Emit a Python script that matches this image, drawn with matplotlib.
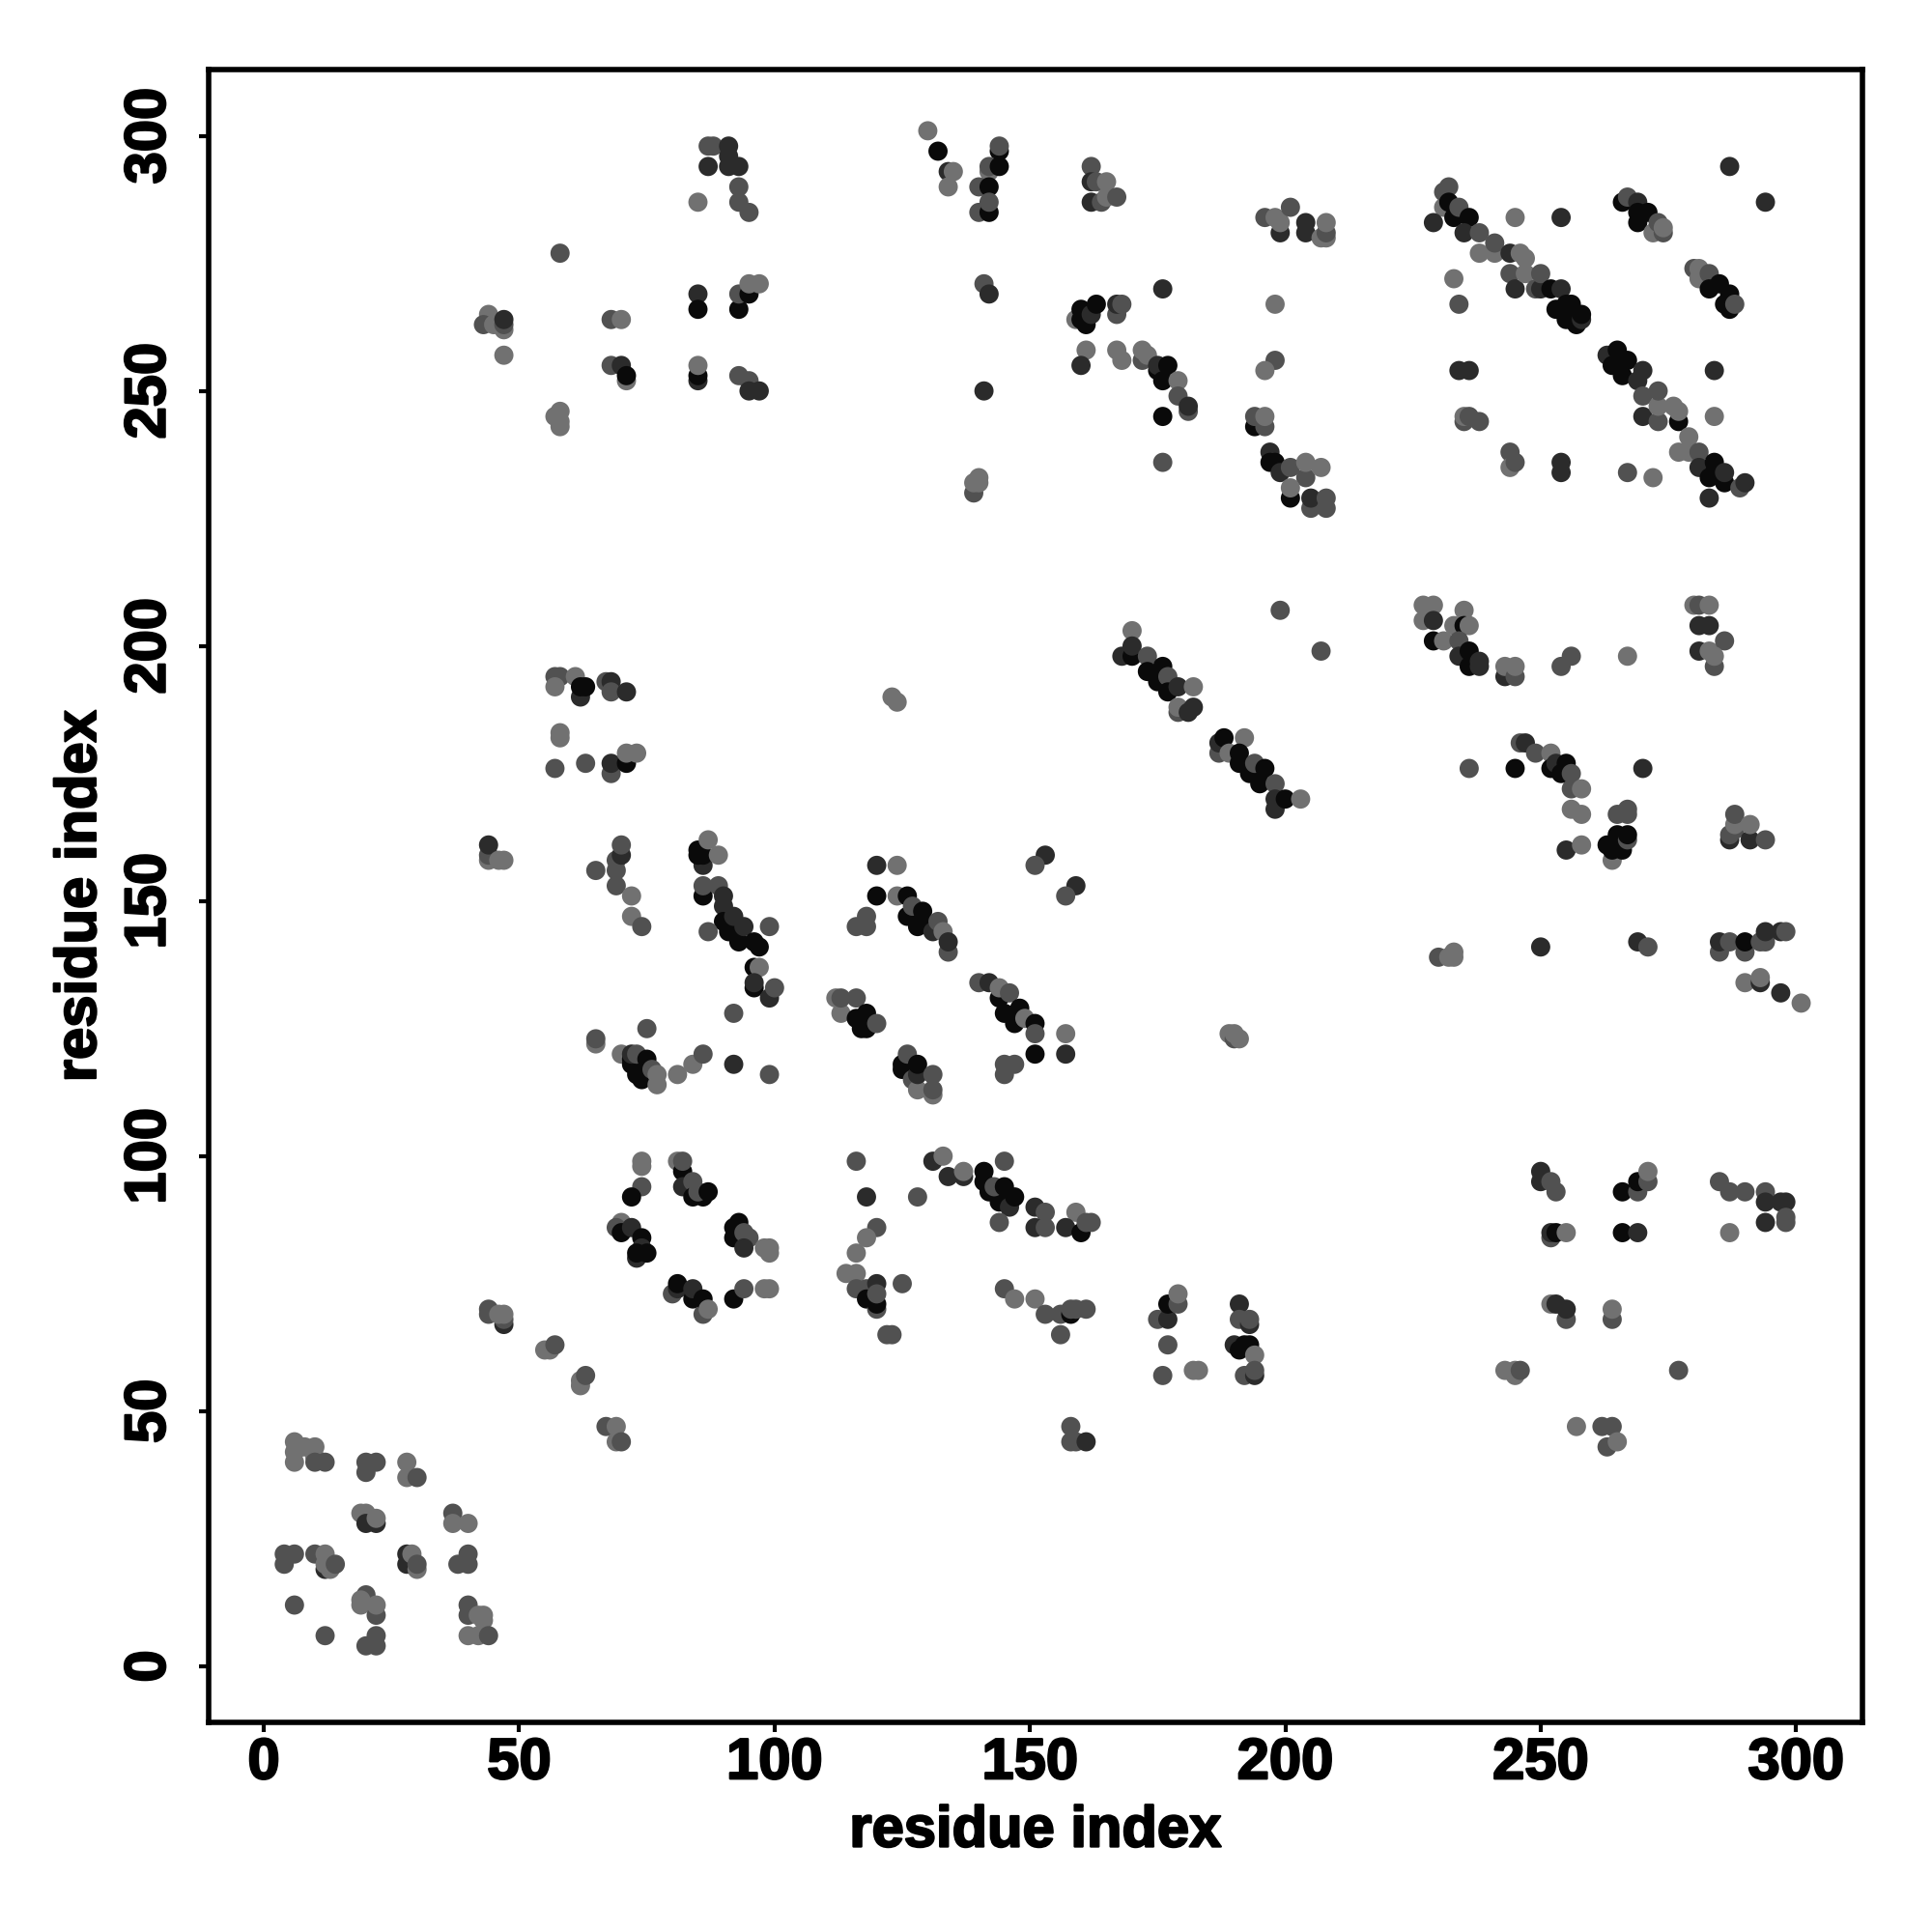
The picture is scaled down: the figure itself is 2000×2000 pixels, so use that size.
import matplotlib
matplotlib.use('Agg')
import matplotlib.pyplot as plt
import matplotlib.patheffects as pe

# contact map: (residue i, residue j, shade)
# shade: 0 light grey, 1 mid grey, 2 dark grey, 3 near black; later points sit on top
shade_grays = ['#717171', '#515151', '#2b2b2b', '#0a0a0a']

domain_corner = [
    (6,44,0),(6,42,0),(6,40,0),(8,43,0),(10,43,0),(10,41,0),(10,40,1),(12,40,1),
    (20,38,1),(20,40,1),(22,40,1),(28,40,0),(28,37,0),(30,37,1),
    (19,30,0),(20,30,0),(20,28,2),(22,28,2),(22,29,0),(37,30,1),(37,28,0),(40,28,0),
    (4,20,1),(4,22,1),(6,22,1),(10,22,1),(12,22,0),(12,19,2),(12,20,0),(13,19,0),(14,20,1),
    (28,22,2),(28,20,2),(29,22,0),(30,19,0),(30,20,1),(40,22,1),(38,20,1),(40,20,1),
    (6,12,1),(12,6,1),(20,14,1),(19,13,0),(19,12,0),(22,10,1),(22,12,0),(20,4,1),(22,4,1),(22,6,1),
    (40,12,1),(40,10,1),(42,10,0),(43,9,0),(43,10,0),(40,6,0),(42,6,0),(44,6,1),
]
near_diag = [
    (44,70,1),(44,69,1),(47,67,2),(47,68,1),(46,69,0),(47,69,0),
    (55,62,0),(56,62,0),(57,63,1),(62,55,0),(62,56,0),(63,57,1),
    (67,47,1),(69,47,0),(69,44,0),(70,44,1),
]
block_44_100 = [
    (44,158,0),(44,159,1),(44,161,2),(46,158,0),(47,158,0),(65,156,1),
    (69,156,1),(69,158,1),(70,159,2),(70,161,1),(69,153,1),(72,151,0),(72,147,0),(74,145,1),
    (86,157,2),(85,159,3),(85,160,3),(86,159,3),(87,162,0),(89,159,0),
    (86,151,3),(86,153,1),(89,153,1),(90,149,2),(90,151,2),(90,146,3),(91,144,3),(92,147,2),
    (93,142,3),(94,145,2),(96,142,3),(97,141,3),(87,144,1),(99,145,1),
    (96,137,3),(97,137,0),(96,133,3),(96,134,2),(99,131,2),(100,133,1),(92,128,1),
    (65,122,0),(65,123,1),(75,125,1),(70,120,0),(72,118,3),(72,119,3),(72,120,2),(73,116,3),
    (74,115,3),(73,120,1),(75,119,3),(76,117,1),(77,114,0),(77,116,0),(81,116,0),(84,118,0),(86,120,1),
    (92,118,2),(99,116,1),
]
block_112_160 = [
    (120,157,2),(124,157,0),(120,151,3),(124,151,0),(118,147,1),(116,145,1),(118,145,1),
    (126,147,3),(126,151,3),(127,149,1),(128,145,3),(129,146,3),(129,148,3),(131,144,2),
    (132,146,1),(133,144,0),(134,140,1),(134,142,2),
    (153,159,2),(151,157,1),(159,153,2),(157,151,1),
    (140,134,1),(142,134,2),(144,131,3),(144,133,0),(146,132,1),(145,128,3),(147,126,3),(148,129,3),
    (149,127,0),(151,126,3),(151,124,1),(157,124,0),(151,120,3),(157,120,2),(145,116,1),(145,118,1),(147,118,1),
    (112,131,0),(113,128,0),(113,131,1),(116,131,1),(116,127,3),(117,125,3),(118,125,3),(118,128,3),(120,126,1),
    (125,117,3),(125,118,3),(126,120,1),(127,115,1),(128,113,0),(128,116,2),(128,118,3),(131,112,0),(131,113,1),(131,116,1),
]
block_low_left = [
    (74,98,0),(74,99,0),(74,94,1),(72,92,3),(81,99,0),(82,97,3),(82,99,1),(82,94,2),(84,95,1),
    (84,92,3),(86,92,3),(85,93,1),(87,93,3),
    (70,87,0),(69,86,1),(70,85,3),(72,86,2),(74,84,3),(74,82,2),(73,80,2),(73,81,3),(75,81,3),
    (92,84,3),(92,86,3),(93,87,3),(94,85,1),(95,84,1),(94,82,2),(98,82,0),(99,81,0),(99,82,0),
    (80,73,1),(81,74,2),(81,75,3),(84,72,3),(84,74,2),(86,69,1),(86,72,3),(87,70,0),
    (92,72,3),(94,74,1),(98,74,0),(99,74,0),
]
block_low_mid = [
    (116,99,1),(118,92,2),(128,92,1),(120,86,1),(118,84,0),(116,81,0),
    (114,77,0),(116,77,0),(116,74,1),(118,74,1),(118,72,3),(120,75,2),(120,70,1),(120,71,3),(120,73,1),
    (125,75,1),(122,65,1),(123,65,1),
    (131,99,2),(133,100,0),(134,96,2),(137,96,2),(137,97,0),(141,95,3),(141,97,3),(142,93,3),(144,91,3),
    (143,94,1),(145,94,3),(145,99,1),(146,90,2),(147,92,3),(151,90,2),(153,89,1),(151,86,2),(153,86,1),(144,87,1),
    (159,89,0),(157,86,2),(160,85,3),(161,87,1),(162,87,1),
    (145,74,1),(147,72,0),(151,72,0),(153,69,1),(156,69,1),(158,69,3),(158,70,1),(159,70,1),(161,70,1),(156,65,1),
    (158,47,1),(158,44,1),(159,44,1),(161,44,2),
]
block_low_right = [
    (175,68,1),(177,68,2),(177,71,3),(179,71,1),(179,73,0),(177,63,1),(176,57,1),(182,58,0),(183,58,0),
    (191,71,2),(191,68,1),(193,67,2),(193,68,1),(190,63,2),(191,62,3),(192,63,3),(193,63,3),(194,61,0),
    (192,57,1),(194,57,2),(194,58,1),
    (243,58,0),(245,57,0),(245,58,0),(246,58,1),(252,71,0),(253,71,2),(255,68,1),(255,70,2),
    (264,68,1),(264,70,0),(257,47,0),(262,47,1),(264,47,1),(263,43,1),(265,44,0),(277,58,1),
    (250,97,2),(250,95,2),(252,95,1),(253,93,1),(266,93,3),(269,93,1),(269,95,3),(271,95,1),(271,97,0),
    (285,95,1),(287,93,1),(290,93,1),(294,93,1),(294,91,2),(297,91,2),(298,91,2),(294,87,2),(298,87,1),(298,88,1),
    (252,84,1),(252,85,2),(253,85,3),(255,85,0),(266,85,3),(269,85,2),(287,85,0),
]
helix_168_203 = [
    (170,203,0),(168,198,2),(170,198,3),(170,200,2),(173,198,1),(173,195,3),(175,193,3),(176,196,3),(177,194,1),
    (177,191,3),(179,192,2),(182,192,0),(179,187,1),(179,188,0),(181,187,2),(182,188,2),
    (187,179,1),(187,181,2),(188,182,3),(192,182,0),(189,179,0),(191,177,3),(191,179,3),(193,175,3),(194,177,1),
    (195,173,3),(196,176,3),(198,173,1),(198,168,2),(198,170,2),(200,170,3),(203,170,0),
    (199,207,1),(207,199,1),(123,190,0),(124,189,0),(189,124,0),(190,123,1),(190,124,0),(191,123,0),
]
block_right_mid = [
    (227,208,0),(229,208,0),(227,205,0),(229,205,2),(229,201,3),(231,201,0),(235,207,0),
    (233,204,0),(235,204,3),(236,204,0),(234,201,1),(234,198,2),(236,199,3),(236,196,3),(238,196,2),(238,197,2),
    (243,194,2),(243,196,0),(245,194,1),(245,196,0),(254,196,1),(256,198,1),(267,198,0),
    (280,208,0),(281,208,1),(283,208,0),(281,204,2),(283,204,2),(281,199,2),(283,199,0),(286,201,1),(284,196,1),(284,198,0),
    (236,176,1),(245,176,3),(246,181,1),(247,181,2),(249,179,1),(252,179,0),(252,176,3),(253,177,2),(254,175,3),
    (255,177,3),(256,175,1),(256,172,1),(258,172,0),(256,168,0),(258,167,0),(270,176,2),(255,160,2),(258,161,0),
    (265,167,1),(267,167,1),(267,168,1),(264,158,0),(263,161,3),(264,160,3),(265,161,3),(266,160,3),(265,163,3),
    (267,162,1),(267,163,3),
    (287,162,2),(287,163,1),(288,164,1),(288,165,0),(288,167,1),(291,162,2),(291,165,0),(294,162,1),
    (230,139,1),(232,139,0),(233,139,0),(233,140,0),(250,141,2),(269,142,2),(271,141,1),
    (285,140,1),(285,142,2),(287,142,1),(290,140,1),(290,142,3),(293,142,1),(294,142,1),(294,144,2),(297,144,2),(298,144,1),
    (290,134,0),(293,134,2),(293,135,0),(297,132,2),(301,130,0),
]
block_upper_left = [
    (57,194,1),(58,194,1),(57,192,0),(61,194,0),(62,190,2),(62,192,3),(63,192,3),(67,193,1),(68,193,2),(68,191,1),(71,191,2),
    (58,183,0),(58,182,0),(57,176,1),(63,177,1),(68,175,1),(68,177,2),(71,177,3),(71,179,0),(73,179,0),
    (58,277,1),(44,265,0),(43,263,1),(45,263,0),(47,262,0),(47,263,1),(47,264,2),(47,257,0),
    (68,264,1),(70,264,0),(68,255,1),(70,255,2),(71,252,0),(71,253,3),
    (85,269,2),(85,266,3),(93,266,3),(93,269,1),(95,269,3),(95,271,0),(97,271,0),
    (85,252,2),(85,253,3),(85,255,0),(93,253,1),(95,252,1),(95,250,2),(97,250,2),
    (57,245,0),(58,246,0),(58,244,0),(58,243,0),
    (87,298,1),(88,298,1),(91,296,2),(91,298,2),(87,294,2),(91,294,2),(93,294,2),(93,290,1),(93,287,1),(95,285,1),(85,287,0),
]
block_upper_mid = [
    (130,301,0),(132,297,3),(134,293,2),(135,293,0),(134,290,0),(144,297,3),(144,298,1),(142,293,0),(142,294,1),(144,294,3),
    (140,290,1),(142,290,3),(140,285,1),(142,285,3),(142,287,1),
    (162,294,1),(162,287,2),(162,291,2),(164,287,1),(163,291,1),(165,291,0),(165,288,0),(167,288,1),
    (196,284,1),(198,284,0),(199,281,2),(199,283,0),(201,286,1),(204,281,2),(204,283,2),(207,280,0),(208,280,0),(208,281,1),(208,283,0),
    (141,271,1),(142,269,2),(141,250,2),(139,230,1),(139,232,0),(140,232,0),(140,233,0),
    (159,264,0),(160,264,3),(161,263,3),(160,266,3),(162,265,2),(163,267,3),(167,265,1),(167,267,2),(168,267,1),
    (176,270,2),(198,267,0),(161,258,0),(160,255,2),(167,258,0),(168,256,0),(172,256,1),(172,258,0),(173,257,0),
    (175,254,3),(175,255,2),(176,252,3),(177,255,3),(179,252,0),(179,249,1),(181,246,1),(181,247,2),(176,245,3),
    (198,256,1),(196,254,0),(194,243,3),(194,245,1),(196,243,1),(196,245,0),(176,236,1),
    (197,238,2),(197,236,3),(198,236,3),(199,234,2),(201,235,1),(204,233,1),(204,236,0),(207,235,0),
    (201,229,3),(201,231,0),(205,227,1),(205,229,2),(208,227,1),(208,229,1),
]
block_upper_right = [
    (231,286,0),(231,289,1),(232,290,1),(233,284,3),(232,287,3),(234,286,1),(229,283,2),(236,284,3),(235,281,2),
    (238,277,0),(238,281,1),(241,277,0),(241,279,1),(245,284,0),(254,284,2),(233,272,0),(234,267,1),
    (244,273,1),(244,277,2),(245,270,2),(246,277,0),(247,276,0),(247,273,0),(249,270,1),(250,270,2),(250,273,1),
    (252,270,3),(254,270,2),(253,266,3),(255,264,3),(255,267,3),(256,267,3),(257,263,3),(258,264,2),(258,265,3),
    (234,254,2),(236,254,2),(284,254,2),(263,257,2),(265,258,3),(264,255,3),(266,253,3),(267,256,3),(269,252,2),(270,254,2),
    (270,249,1),(270,245,2),(273,244,1),(273,247,0),(273,250,1),(277,244,3),(276,247,0),(277,246,0),(284,245,0),
    (279,241,0),(277,238,0),(279,238,0),(281,238,1),(281,235,2),(284,236,3),(283,233,3),(284,234,3),(286,232,3),(286,234,2),
    (289,231,1),(290,232,2),(283,229,2),
    (235,244,1),(235,245,0),(236,245,1),(238,244,1),(244,238,1),(244,235,0),(245,236,1),(254,234,2),(254,236,2),(267,234,1),(272,233,0),
    (287,294,2),(294,287,2),(266,287,3),(267,288,1),(269,283,3),(269,287,2),(269,285,3),(271,285,3),(272,281,0),(273,283,1),(274,281,1),(274,282,0),
    (280,274,1),(281,272,0),(281,274,0),(283,273,1),(283,270,3),(285,271,3),(286,267,3),(287,266,3),(287,269,3),(288,267,1),
]
clusters = [domain_corner, near_diag, block_44_100, block_112_160, block_low_left, block_low_mid,
            block_low_right, helix_168_203, block_right_mid, block_upper_left, block_upper_mid, block_upper_right]

tick_values = [0, 50, 100, 150, 200, 250, 300]

plt.rcParams['font.family'] = ['Liberation Sans', 'DejaVu Sans']

fig = plt.figure(figsize=(20, 20), dpi=100)
ax = fig.add_axes([216 / 2000, 1 - 1783 / 2000, (1928 - 216) / 2000, (1783 - 72) / 2000])

for cluster in clusters:
    xs = [p[0] for p in cluster]
    ys = [p[1] for p in cluster]
    colors = [shade_grays[p[2]] for p in cluster]
    ax.scatter(xs, ys, c=colors, s=205, linewidths=0, zorder=3)

ax.set_xlim(-10.8, 313)
ax.set_ylim(-11, 313)
ax.set_xticks(tick_values)
ax.set_yticks(tick_values)
ax.tick_params(axis='x', length=7, width=3, labelsize=43, pad=4)
ax.tick_params(axis='y', length=7, width=3, labelsize=43, pad=17)

# reference type is heavier than Liberation bold, thicken it a little
heavier = [pe.withStroke(linewidth=1.6, foreground='black')]
for label in ax.get_xticklabels():
    label.set_fontweight('bold')
    label.set_path_effects(heavier)
for label in ax.get_yticklabels():
    label.set_fontweight('bold')
    label.set_rotation(90)
    label.set_va('center')
    label.set_path_effects(heavier)
for spine in ax.spines.values():
    spine.set_linewidth(4)

ax.set_xlabel('residue index', fontsize=43, fontweight='bold', labelpad=11, path_effects=heavier)
ax.set_ylabel('residue index', fontsize=43, fontweight='bold', labelpad=12, path_effects=heavier)

fig.savefig('out.png', dpi=100)
